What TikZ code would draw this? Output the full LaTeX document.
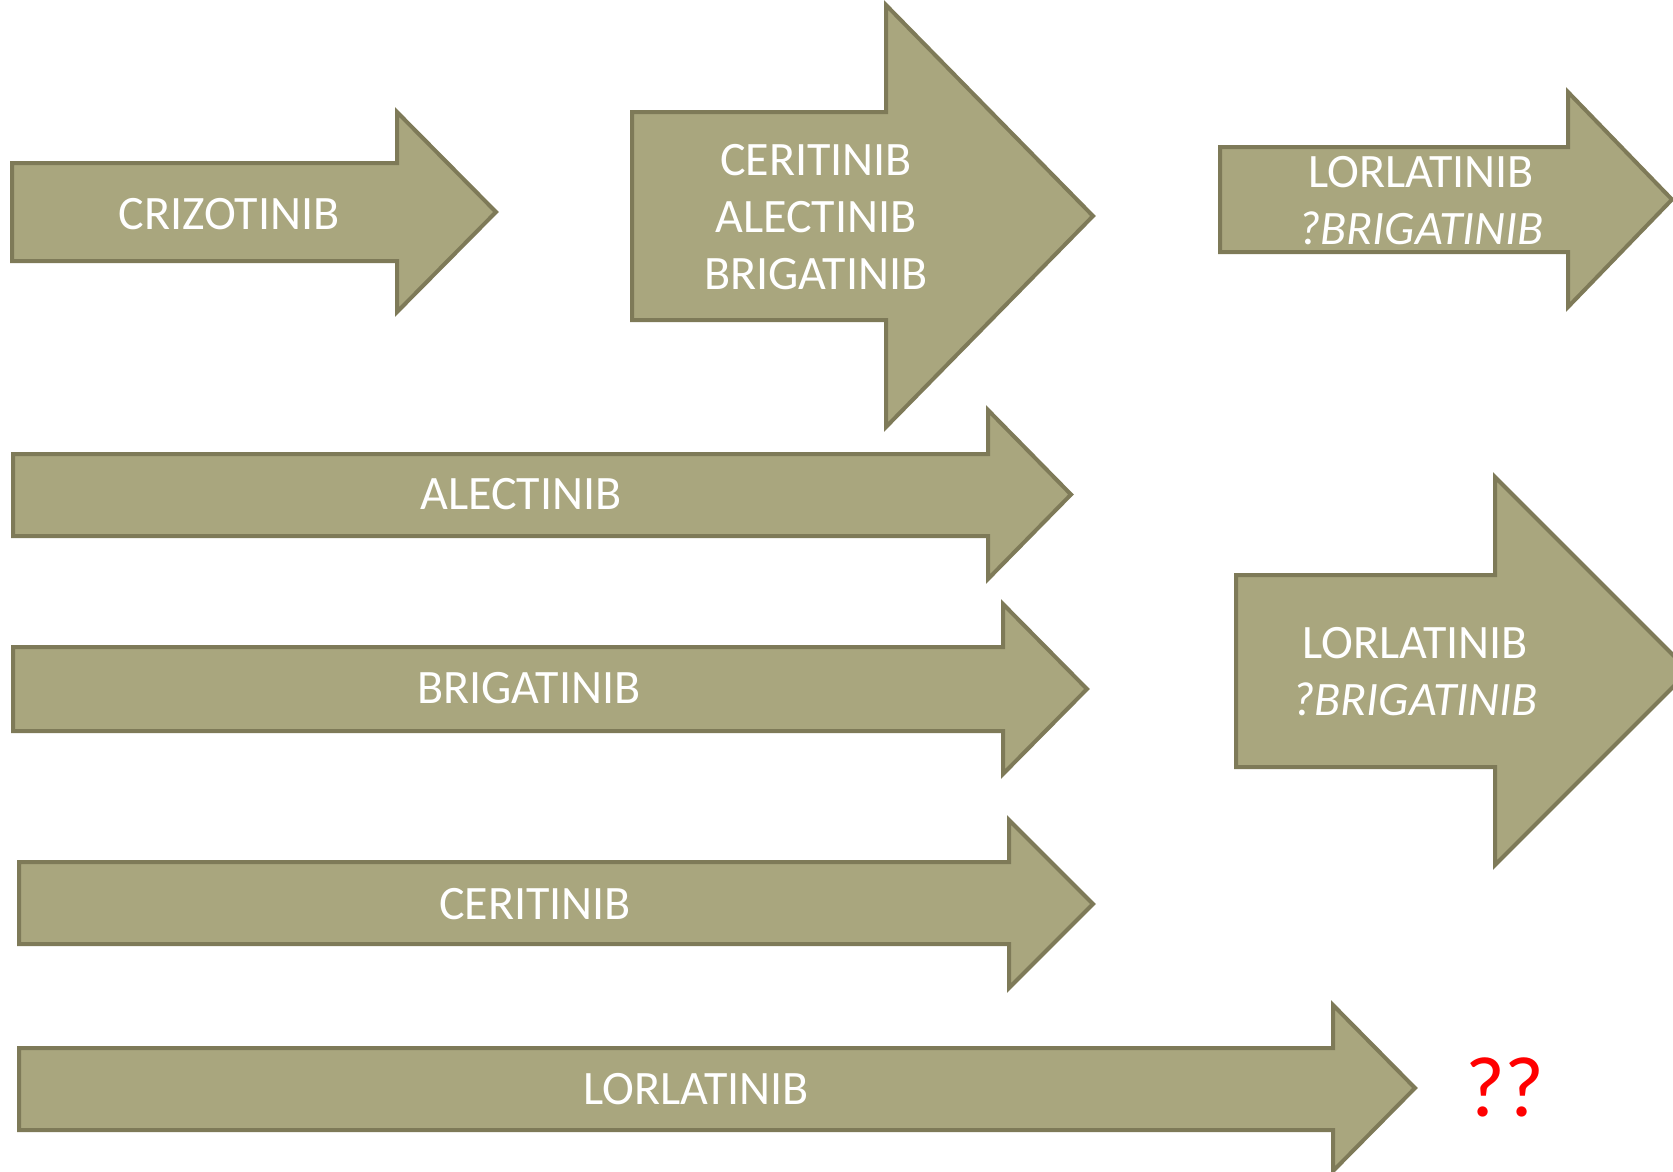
\documentclass[tikz,border=0pt]{standalone}
\usepackage{fontspec}
\setmainfont{Carlito}
\usepackage{tikz}
\definecolor{olivefill}{RGB}{169,166,126}
\definecolor{olivedraw}{RGB}{126,122,88}
\definecolor{qred}{RGB}{255,0,0}
\newcommand{\blockarrow}[7]{%
\draw [arrowbox] (#1,#2) -- (#4,#2) -- (#4,#5) -- (#7,{(#5+#6)/2}) -- (#4,#6) -- (#4,#3) -- (#1,#3) -- cycle;}

\begin{document}
\begin{tikzpicture}[x=1pt, y=-1pt,
  arrowbox/.style={fill=olivefill, draw=olivedraw, line width=4pt},
  drug/.style={text=white, inner sep=0pt, align=center, font=\fontsize{48}{57}\selectfont}]
\clip (0, 0) rectangle (1673, 1171);
\fill [white] (0, 0) rectangle (1673, 1171);

\blockarrow{12}{163}{261}{397}{112}{312}{496}
\blockarrow{632}{112}{320}{886}{5}{427}{1093}
\blockarrow{1220}{147}{252}{1568}{92}{307}{1672}
\blockarrow{13}{454}{536}{988}{410}{579}{1071}
\blockarrow{13}{647}{731}{1003}{604}{774}{1087}
\blockarrow{19}{862}{944}{1009}{820}{988}{1093}
\blockarrow{19}{1048}{1130}{1333}{1005}{1171}{1415}
\blockarrow{1236}{575}{767}{1495}{477}{865}{1689}

\node [drug] (crizo) at (229, 214) {CRIZOTINIB};
\node [drug] (second) at (816, 217) {CERITINIB\\ALECTINIB\\BRIGATINIB};
\node [drug] (third) at (1421, 201) {LORLATINIB\\\textit{?BRIGATINIB}};
\node [drug] (alec) at (521, 494) {ALECTINIB};
\node [drug] (briga) at (529, 688) {BRIGATINIB};
\node [drug] (ceri) at (535, 904) {CERITINIB};
\node [drug] (lorla) at (696, 1089) {LORLATINIB};
\node [drug] (after) at (1415, 672) {LORLATINIB\\\textit{?BRIGATINIB}};
\node [text=qred, inner sep=0pt, font=\fontsize{86}{90}\selectfont] (unknown) at (1505, 1087) {??};
\end{tikzpicture}
\end{document}
